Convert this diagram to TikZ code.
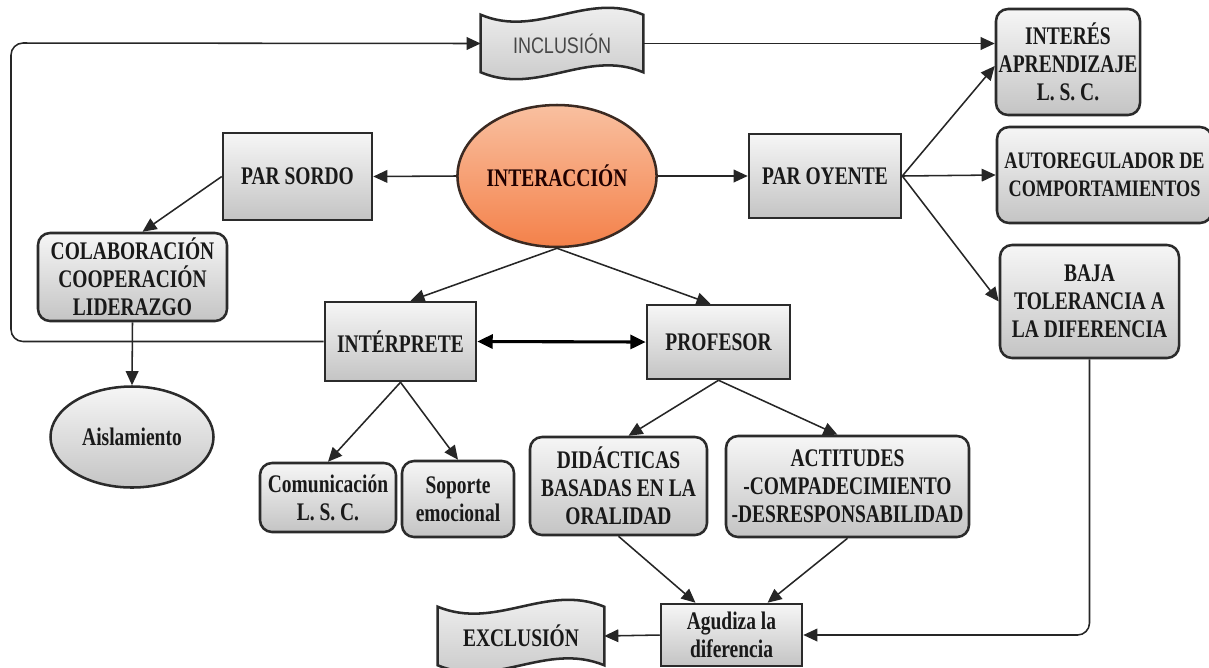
\documentclass[tikz,border=0pt]{standalone}
\usepackage{fontspec}
\setmainfont{Liberation Serif}[FakeStretch=0.77]
\newfontfamily\bannersans{Liberation Sans}[FakeStretch=0.8]
\usetikzlibrary{arrows.meta,calc,backgrounds,shapes.geometric}

\definecolor{boxline}{HTML}{2B2B2B}
\definecolor{boxtop}{HTML}{F6F6F6}
\definecolor{boxbot}{HTML}{C4C4C4}
\definecolor{ovaltop}{HTML}{F9C0A0}
\definecolor{ovalbot}{HTML}{F4814A}
\definecolor{ovalline}{HTML}{3B2A22}

\tikzset{
  wh/.style 2 args={minimum width=#1*0.025cm, minimum height=#2*0.025cm},
  box/.style={draw=boxline, line width=1.8pt, top color=boxtop, bottom color=boxbot,
              align=center, text=black!90, inner sep=0pt,
              font=\bfseries\fontsize{18}{19.8}\selectfont},
  rbox/.style={box, rounded corners=0.3cm},
  oval/.style={box, ellipse},
  banner/.style={align=center, inner sep=0pt, text=black!90,
                 font=\bfseries\fontsize{18}{19.8}\selectfont},
  bannerfill/.style={draw=boxline, line width=1.8pt, top color=boxtop, bottom color=boxbot},
  conn/.style={draw=black!85, line width=1.1pt, -{Triangle[length=10pt,width=9pt]}},
}

% wavy tape drawn round a banner node
\newcommand\bannerwave[1]{%
  \path[bannerfill] (#1.north west)
    .. controls ($(#1.north west)!0.35!(#1.north east)+(0,24)$)
            and ($(#1.north west)!0.65!(#1.north east)+(0,-24)$) .. (#1.north east)
    -- (#1.south east)
    .. controls ($(#1.south west)!0.65!(#1.south east)+(0,-24)$)
            and ($(#1.south west)!0.35!(#1.south east)+(0,24)$) .. (#1.south west)
    -- cycle;}

\begin{document}
\begin{tikzpicture}[x=0.025cm, y=-0.025cm]

    \useasboundingbox (0,0) rectangle (1209,667);
    % \draw [help lines, step=50] (0,0) grid (1209,667);

    \node [oval, wh={165}{142}, top color=ovaltop, bottom color=ovalbot, draw=ovalline,
           text=black!80!red!60!black] (inter) at (557,176) {INTERACCIÓN};

    \node [box,  wh={149}{87}]  (sordo)   at (297.5,176.5) {PAR SORDO};
    \node [box,  wh={152}{84}]  (oyente)  at (825,176)     {PAR OYENTE};
    \node [rbox, wh={189}{88}]  (colab)   at (132.5,277)   {COLABORACIÓN\\COOPERACIÓN\\LIDERAZGO};
    \node [oval, wh={163}{101}] (aisl)    at (132,437)     {Aislamiento};

    \node [rbox, wh={144}{106}] (interes) at (1068,62)     {INTERÉS\\APRENDIZAJE\\L. S. C.};
    \node [rbox, wh={215}{96}, font=\bfseries\fontsize{16.8}{19.8}\selectfont]
          (autoreg) at (1104.5,175)  {AUTOREGULADOR DE\\COMPORTAMIENTOS};
    \node [rbox, wh={179}{113}] (baja)    at (1089.5,301.5){BAJA\\TOLERANCIA A\\LA DIFERENCIA};

    \node [box,  wh={151}{79}]  (interp)  at (400.5,341.5) {INTÉRPRETE};
    \node [box,  wh={143}{74}]  (prof)    at (718.5,342)   {PROFESOR};

    \node [rbox, wh={136}{69}]  (comun)   at (328,497.5)   {Comunicación\\L. S. C.};
    \node [rbox, wh={112}{76}]  (soporte) at (458,499)     {Soporte\\emocional};
    \node [rbox, wh={177}{98}]  (didac)   at (618.5,486)   {DIDÁCTICAS\\BASADAS EN LA\\ORALIDAD};
    \node [rbox, wh={243}{101}] (actit)   at (847.5,486.5) {ACTITUDES\\-COMPADECIMIENTO\\-DESRESPONSABILIDAD};

    \node [box,  wh={141}{62}]  (agud)    at (731.5,635)   {Agudiza la\\diferencia};

    \node [banner, wh={162}{57}, font=\bannersans\fontsize{16}{18}\selectfont, text=black!72]
          (incl) at (562,43.5) {INCLUSIÓN};
    \node [banner, wh={166}{58}] (excl) at (521,636) {EXCLUSIÓN};

    \begin{scope}[on background layer]
        \bannerwave{incl}
        \bannerwave{excl}
    \end{scope}

    \coordinate (loop) at (11,43);

    \draw [conn] (inter.west) -- (sordo.east);
    \draw [conn] (inter.east) -- (oyente.west);
    \draw [conn] (sordo.west) -- ($(colab.north)+(10,0)$);
    \draw [conn] (colab.south) -- (aisl.north);
    \draw [conn] (inter.south) -- ($(interp.north)+(10,0)$);
    \draw [conn] (inter.south) -- ($(prof.north)+(-8,0)$);
    \draw [line width=2.2pt, {Triangle[length=11pt,width=10pt]}-{Triangle[length=11pt,width=10pt]}]
          (interp.east) -- (prof.west);

    \draw [conn] (oyente.east) -- ($(interes.west)+(0,4)$);
    \draw [conn] (oyente.east) -- (autoreg.west);
    \draw [conn] (oyente.east) -- (baja.west);

    \draw [conn] (incl.east) -- (incl.east -| interes.west);
    \draw [conn, rounded corners=0.3cm] (interp.west) -| (loop) -- (incl.west);

    \draw [conn] (interp.south) -- (comun.north);
    \draw [conn] (interp.south) -- (soporte.north);
    \draw [conn] (prof.south) -- ($(didac.north)+(10,0)$);
    \draw [conn] (prof.south) -- ($(actit.north)+(-10,0)$);

    \draw [conn] (didac.south) -- ($(agud.north)+(-36,0)$);
    \draw [conn] (actit.south) -- ($(agud.north)+(36,0)$);
    \draw [conn, rounded corners=0.3cm] (baja.south) |- (agud.east);
    \draw [conn] (agud.west) -- (excl.east);

\end{tikzpicture}
\end{document}
